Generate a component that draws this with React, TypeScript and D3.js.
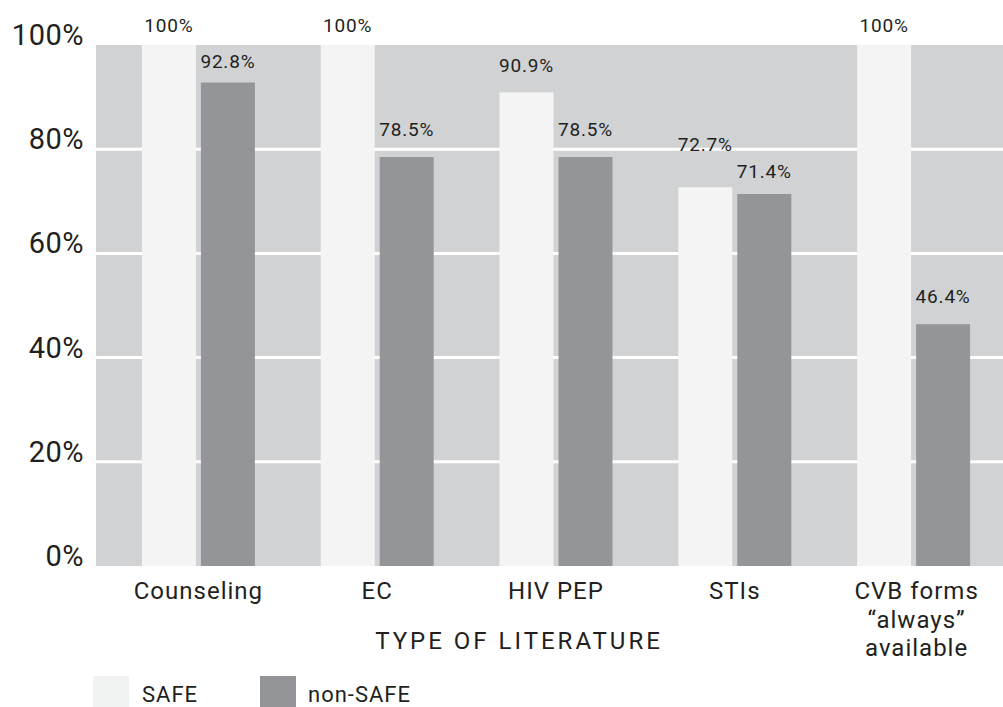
import React from 'react';
import * as d3 from 'd3';

const categories = ['Counseling', 'EC', 'HIV PEP', 'STIs', 'CVB forms'];
const categoryLines = [['Counseling'], ['EC'], ['HIV PEP'], ['STIs'], ['CVB forms', '\u201calways\u201d', 'available']];
const safeValues = [100, 100, 90.9, 72.7, 100];
const nonSafeValues = [92.8, 78.5, 78.5, 71.4, 46.4];
const safeLabels = ['100%', '100%', '90.9%', '72.7%', '100%'];
const nonSafeLabels = ['92.8%', '78.5%', '78.5%', '71.4%', '46.4%'];
const yTicks = [0, 20, 40, 60, 80, 100];

// distance of each value label above its bar (the original places them by hand)
const safeLift = [13, 13, 20, 36, 13];
const nonSafeLift = [15, 21, 21, 16, 21];

const COLORS = { bg: '#d1d2d4', safe: '#f4f4f4', nonSafe: '#939598', text: '#231f20' };
const FONT = 'Roboto, "DejaVu Sans", sans-serif';

const App: React.FC = () => {
  const W = 1003;
  const H = 707;
  const plot = { left: 96, right: 1003, top: 45, bottom: 566 };

  const y = d3.scaleLinear().domain([0, 100]).range([plot.bottom, plot.top]);

  const x0 = d3.scaleBand<string>()
    .domain(categories)
    .range([109, 1003])
    .paddingInner(0.368)
    .paddingOuter(0.184);

  const x1 = d3.scaleBand<string>()
    .domain(['safe', 'nonSafe'])
    .range([0, x0.bandwidth()])
    .paddingInner(5 / 59);

  const series = [
    { key: 'safe', values: safeValues, labels: safeLabels, lift: safeLift, color: COLORS.safe },
    { key: 'nonSafe', values: nonSafeValues, labels: nonSafeLabels, lift: nonSafeLift, color: COLORS.nonSafe },
  ];

  return (
    <svg width={W} height={H} style={{ position: 'absolute', left: 0, top: 0 }} fontFamily={FONT}>
      <rect x={plot.left} y={plot.top} width={plot.right - plot.left} height={plot.bottom - plot.top} fill={COLORS.bg} />

      {yTicks.filter(t => t > 0 && t < 100).map(t => (
        <line key={t} x1={plot.left} x2={plot.right} y1={y(t)} y2={y(t)} stroke="#fff" strokeWidth={3} />
      ))}

      {yTicks.map(t => (
        <text key={t} x={84} y={y(t)} textAnchor="end" fontSize={29} letterSpacing={0.5} fill={COLORS.text}>{t}%</text>
      ))}

      {categories.map((c, i) => (
        <g key={c} transform={`translate(${x0(c)},0)`}>
          {series.map(s => {
            const bx = x1(s.key) as number;
            const bw = x1.bandwidth();
            return (
              <g key={s.key}>
                <rect x={bx} y={y(s.values[i])} width={bw} height={y(0) - y(s.values[i])} fill={s.color} />
                <text x={bx + bw / 2} y={y(s.values[i]) - s.lift[i]} textAnchor="middle" fontSize={19}
                  letterSpacing={0.8} fill={COLORS.text}>{s.labels[i]}</text>
              </g>
            );
          })}
        </g>
      ))}

      {categories.map((c, i) => (
        <text key={c} x={(x0(c) as number) + x0.bandwidth() / 2} y={599} textAnchor="middle" fontSize={24}
          letterSpacing={1} fill={COLORS.text}>
          {categoryLines[i].map((line, j) => (
            <tspan key={j} x={(x0(c) as number) + x0.bandwidth() / 2 + (i === 4 ? 3 : 0)} dy={j === 0 ? 0 : 28.5}>{line}</tspan>
          ))}
        </text>
      ))}

      <text x={519} y={649} textAnchor="middle" fontSize={24} letterSpacing={3} fill={COLORS.text}>TYPE OF LITERATURE</text>

      <rect x={93} y={676} width={36} height={31} fill="#f1f2f2" />
      <text x={142} y={702} fontSize={22} letterSpacing={1} fill={COLORS.text}>SAFE</text>
      <rect x={260} y={676} width={36} height={31} fill={COLORS.nonSafe} />
      <text x={308} y={702} fontSize={22} letterSpacing={1} fill={COLORS.text}>non-SAFE</text>
    </svg>
  );
};

export default App;
